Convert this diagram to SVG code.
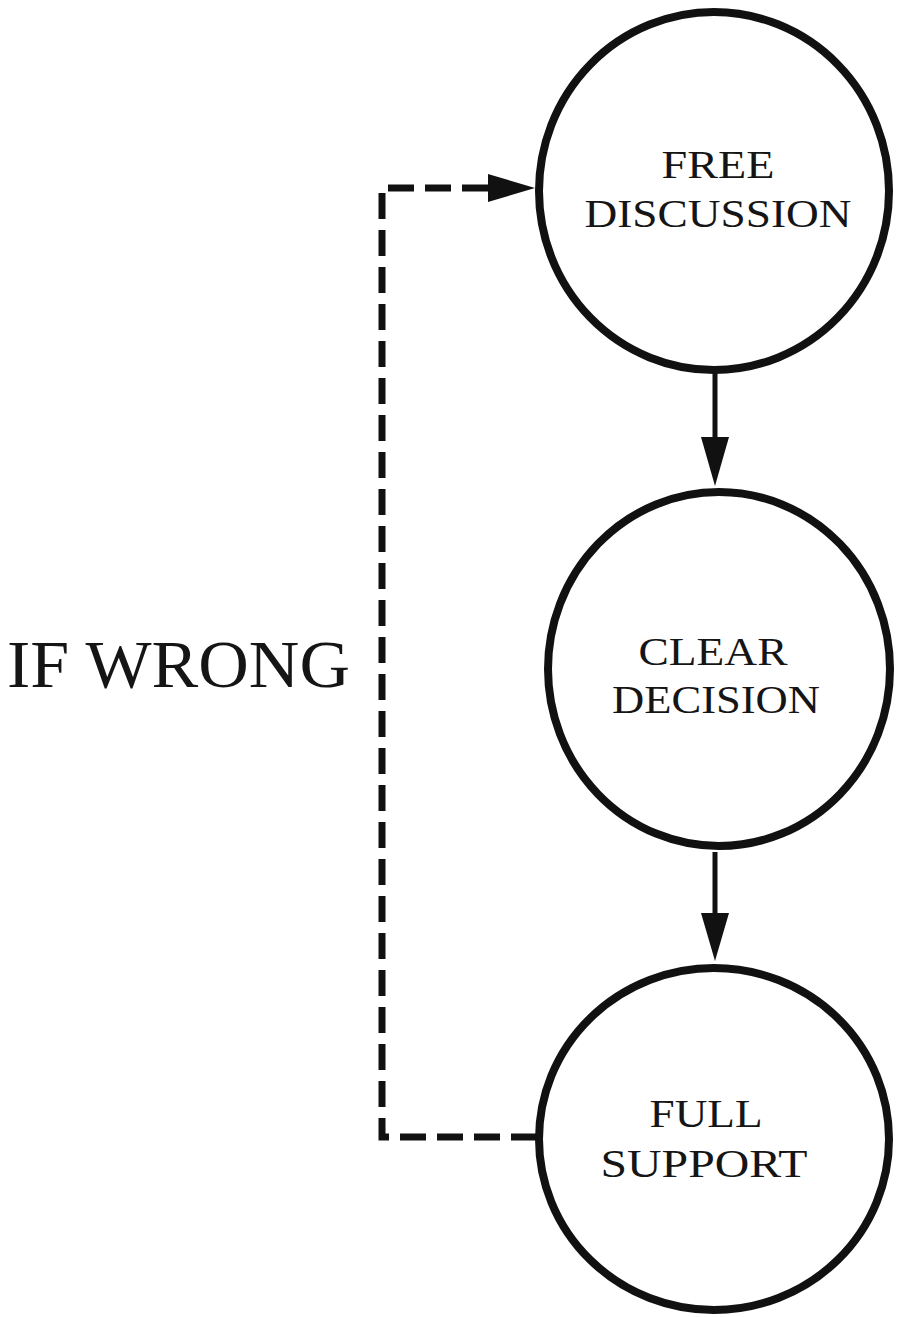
<svg xmlns="http://www.w3.org/2000/svg" width="897" height="1317" viewBox="0 0 897 1317">
<style>
.node{fill:#fff;stroke:#111;stroke-width:8}
.lbl{font-family:"Liberation Serif","Times New Roman",serif;font-size:39px;fill:#151515;text-anchor:middle}
.big{font-family:"Liberation Serif","Times New Roman",serif;font-size:68px;fill:#151515}
.solid{fill:none;stroke:#111;stroke-width:5}
.dash{fill:none;stroke:#111;stroke-width:7;stroke-dasharray:26 11;stroke-linejoin:miter}
</style>
<defs>
<marker id="ahr" markerUnits="userSpaceOnUse" viewBox="0 0 47 28" refX="2" refY="14" markerWidth="47" markerHeight="28" orient="0">
<path d="M0,0 L47,14 L0,28 Z" fill="#111"/>
</marker>
</defs>
<rect width="897" height="1317" fill="#fff"/>
<g id="connectors">
<path class="solid" d="M715,372 V437"/>
<polygon points="701,437 729,437 715,486" fill="#111"/>
<path class="solid" d="M715,852 V913"/>
<polygon points="701,913 729,913 715,961" fill="#111"/>
<path class="dash" d="M537,1137 H382 V188 H490" marker-end="url(#ahr)"/>
</g>
<g id="free-discussion">
<ellipse class="node" cx="714" cy="191" rx="175" ry="179"/>
<text class="lbl" x="718" y="178" textLength="113" lengthAdjust="spacingAndGlyphs">FREE</text>
<text class="lbl" x="718" y="227" textLength="267" lengthAdjust="spacingAndGlyphs">DISCUSSION</text>
</g>
<g id="clear-decision">
<ellipse class="node" cx="719" cy="669" rx="171" ry="177"/>
<text class="lbl" x="713" y="665" textLength="149" lengthAdjust="spacingAndGlyphs">CLEAR</text>
<text class="lbl" x="716" y="713" textLength="208" lengthAdjust="spacingAndGlyphs">DECISION</text>
</g>
<g id="full-support">
<ellipse class="node" cx="714" cy="1139" rx="175" ry="171"/>
<text class="lbl" x="706" y="1127" textLength="113" lengthAdjust="spacingAndGlyphs">FULL</text>
<text class="lbl" x="704" y="1177" textLength="207" lengthAdjust="spacingAndGlyphs">SUPPORT</text>
</g>
<g id="if-wrong">
<text class="big" x="7" y="687" textLength="343" lengthAdjust="spacingAndGlyphs">IF WRONG</text>
</g>
</svg>
